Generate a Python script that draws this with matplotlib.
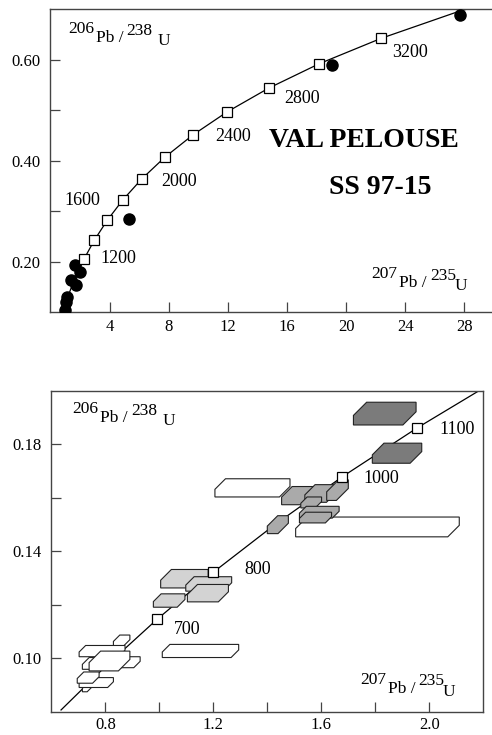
import matplotlib.pyplot as plt
import numpy as np
from matplotlib.patches import Polygon

plt.rcParams['font.family'] = ['Liberation Serif', 'DejaVu Serif']

# concordia points (age in Ma, 207Pb/235U, 206Pb/238U)
conc_age = [500, 600, 700, 800, 900, 1000, 1100, 1200, 1400, 1600, 1800, 2000,
            2200, 2400, 2600, 2800, 3000, 3200, 3400, 3600]
conc_x = [0.636, 0.806, 0.993, 1.199, 1.426, 1.677, 1.955, 2.260, 2.970, 3.835,
          4.887, 6.169, 7.729, 9.630, 11.944, 14.762, 18.193, 22.372, 27.460, 33.656]
conc_y = [0.0807, 0.0975, 0.1147, 0.1321, 0.1498, 0.1678, 0.1861, 0.2046, 0.2426,
          0.2817, 0.3221, 0.3638, 0.4068, 0.4511, 0.4968, 0.5440, 0.5926, 0.6428,
          0.6946, 0.7480]

# upper diagram
top_marks = [1200, 1400, 1600, 1800, 2000, 2200, 2400, 2600, 2800, 3000, 3200]
top_labels = [1200, 1600, 2000, 2400, 2800, 3200]
top_label_off = [(24.5, 0.7), (-17.6, 14.5), (27, -1.9), (28.8, -1.1), (23.8, -7.8), (20.8, -9.9)]
dot_x = [1.01, 1.03, 1.12, 1.37, 1.75, 1.68, 1.97, 5.33, 19.05, 27.7]
dot_y = [0.1037, 0.1197, 0.1296, 0.1634, 0.1529, 0.1926, 0.1801, 0.284, 0.589, 0.690]

# lower diagram
bot_marks = [700, 800, 1000, 1100]
bot_label_off = [(21.2, -7.4), (32, 2.2), (28.2, -1.5), (28.9, -0.9)]
# error boxes: x range, y range, shade group (0 white, 1 light, 2 medium, 3 dark)
box_x0 = [0.715, 0.703, 0.696, 0.830, 0.703, 0.715, 0.850, 0.740, 1.011, 1.206, 1.505,
          1.005, 1.098, 1.104, 0.978,
          1.453, 1.539, 1.620, 1.524, 1.400, 1.519, 1.519,
          1.719, 1.789]
box_x1 = [0.750, 0.830, 0.777, 0.891, 0.873, 0.780, 0.929, 0.891, 1.294, 1.484, 2.111,
          1.181, 1.268, 1.256, 1.095,
          1.576, 1.657, 1.700, 1.601, 1.478, 1.666, 1.638,
          1.951, 1.972]
box_y0 = [0.0875, 0.0891, 0.0907, 0.1046, 0.1006, 0.0959, 0.0965, 0.0953, 0.1003, 0.1603, 0.1454,
          0.1263, 0.1251, 0.1211, 0.1191,
          0.1574, 0.1583, 0.1590, 0.1562, 0.1466, 0.1524, 0.1506,
          0.1872, 0.1729]
box_y1 = [0.0905, 0.0928, 0.0949, 0.1087, 0.1048, 0.1003, 0.1006, 0.1027, 0.1052, 0.1671, 0.1528,
          0.1332, 0.1305, 0.1276, 0.1241,
          0.1642, 0.1649, 0.1667, 0.1603, 0.1533, 0.1568, 0.1546,
          0.1957, 0.1804]
box_group = [0, 0, 0, 0, 0, 0, 0, 0, 0, 0, 0,
             1, 1, 1, 1,
             2, 2, 2, 2, 2, 2, 2,
             3, 3]
shades = ['white', '#d3d3d3', '#aaaaaa', '#7b7b7b']

conc = dict(zip(conc_age, zip(conc_x, conc_y)))
spine_col = '#444444'

fig = plt.figure(figsize=(4.92, 7.35), dpi=100)
ax1 = fig.add_axes([0.1026, 0.5755, 0.9014, 0.4116])
ax2 = fig.add_axes([0.1043, 0.0315, 0.878, 0.4369])


def style(ax):
    for s in ax.spines.values():
        s.set_color(spine_col)
        s.set_linewidth(1.0)
    ax.tick_params(direction='in', length=7, width=0.9, color=spine_col,
                   labelsize=12, pad=7, top=False, right=False)


def ratio_label(ax, x, y, pb, u, u_dx):
    pieces = [(pb, 0, 0), ('Pb /', 19.8, -6.4), (u, 42.0, -0.9), ('U', u_dx, -8.3)]
    for txt, dx, dy in pieces:
        ax.annotate(txt, (x, y), xycoords='axes fraction', xytext=(dx, dy),
                    textcoords='offset points', ha='left', va='baseline', fontsize=12.5)


# ---- upper plot
style(ax1)
ax1.spines['right'].set_visible(False)
ax1.plot(conc_x, conc_y, color='black', lw=0.9, zorder=2)
ax1.plot(dot_x, dot_y, 'o', color='black', ms=8, zorder=3)
ax1.plot([conc[a][0] for a in top_marks], [conc[a][1] for a in top_marks], 's',
         mfc='white', mec='black', mew=0.9, ms=6.5, zorder=4)
for a, off in zip(top_labels, top_label_off):
    ax1.annotate(str(a), conc[a], xytext=off, textcoords='offset points',
                 ha='center', va='center', fontsize=13)
ax1.text(21.2, 0.44, 'VAL PELOUSE', fontsize=20, fontweight='bold', ha='center', va='center')
ax1.text(22.3, 0.347, 'SS 97-15', fontsize=20, fontweight='bold', ha='center', va='center')
ratio_label(ax1, 0.0401, 0.9213, '206', '238', 64.4)
ratio_label(ax1, 0.7242, 0.1114, '207', '235', 59.4)
ax1.set_xlim(0, 30)
ax1.set_ylim(0.10, 0.70)
ax1.set_xticks([4, 8, 12, 16, 20, 24, 28])
ax1.set_yticks([0.2, 0.3, 0.4, 0.5, 0.6])
ax1.set_yticklabels(['0.20', '', '0.40', '', '0.60'])
ax1.tick_params(axis='x', pad=5)

# ---- lower plot
style(ax2)
ax2.set_xlim(0.6, 2.2)
ax2.set_ylim(0.08, 0.20)
ax2.plot(conc_x, conc_y, color='black', lw=0.9, zorder=1)

p0, p1 = ax2.transData.transform([(0.6, 0.08), (2.2, 0.20)])
px_ratio = ((p1[1] - p0[1]) / 0.12) / ((p1[0] - p0[0]) / 1.6)

for x0, x1, y0, y1, g in zip(box_x0, box_x1, box_y0, box_y1, box_group):
    dy = 0.58 * (y1 - y0)
    dx = min(dy * px_ratio, 0.6 * (x1 - x0))
    verts = [(x0, y0), (x0, y1 - dy), (x0 + dx, y1), (x1, y1), (x1, y0 + dy), (x1 - dx, y0)]
    ax2.add_patch(Polygon(verts, closed=True, facecolor=shades[g], edgecolor='#222222',
                          lw=0.8, zorder=2))

ax2.plot([conc[a][0] for a in bot_marks], [conc[a][1] for a in bot_marks], 's',
         mfc='white', mec='black', mew=0.9, ms=7, zorder=5)
for a, off in zip(bot_marks, bot_label_off):
    ax2.annotate(str(a), conc[a], xytext=off, textcoords='offset points',
                 ha='center', va='center', fontsize=13)
ratio_label(ax2, 0.0495, 0.9298, '206', '238', 64.4)
ratio_label(ax2, 0.7146, 0.0860, '207', '235', 59.4)
ax2.set_xticks([0.8, 1.0, 1.2, 1.4, 1.6, 1.8, 2.0])
ax2.set_xticklabels(['0.8', '', '1.2', '', '1.6', '', '2.0'])
ax2.set_yticks([0.10, 0.12, 0.14, 0.16, 0.18])
ax2.set_yticklabels(['0.10', '', '0.14', '', '0.18'])
ax2.tick_params(axis='x', pad=3.5)

fig.savefig('out.png', dpi=100)
